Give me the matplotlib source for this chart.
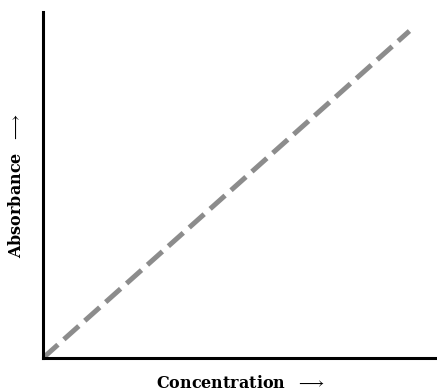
import matplotlib
matplotlib.use("Agg")
import matplotlib.pyplot as plt

plt.rcParams["mathtext.fontset"] = "cm"

concentration = [0.0, 0.93]
absorbance = [0.0, 0.945]

fig = plt.figure(figsize=(4.37, 3.92), dpi=100)
ax = fig.add_axes([0.0984, 0.0867, 0.9016, 0.8827])
ax.plot(concentration, absorbance, color="#8c8c8c", lw=3.6,
        dashes=(4.0, 1.6), solid_capstyle="butt", dash_capstyle="butt")
ax.set_xlim(0, 1)
ax.set_ylim(0, 1)
for s in ["top", "right"]:
    ax.spines[s].set_visible(False)
ax.spines["left"].set_linewidth(2.2)
ax.spines["bottom"].set_linewidth(2.2)
ax.set_xticks([])
ax.set_yticks([])
font = dict(family="DejaVu Serif", fontsize=11.5, fontweight="bold")
ax.set_xlabel(r"Concentration  $\longrightarrow$", labelpad=12, **font)
ax.set_ylabel(r"Absorbance  $\longrightarrow$", labelpad=13, **font)
fig.savefig("out.png", dpi=100)
